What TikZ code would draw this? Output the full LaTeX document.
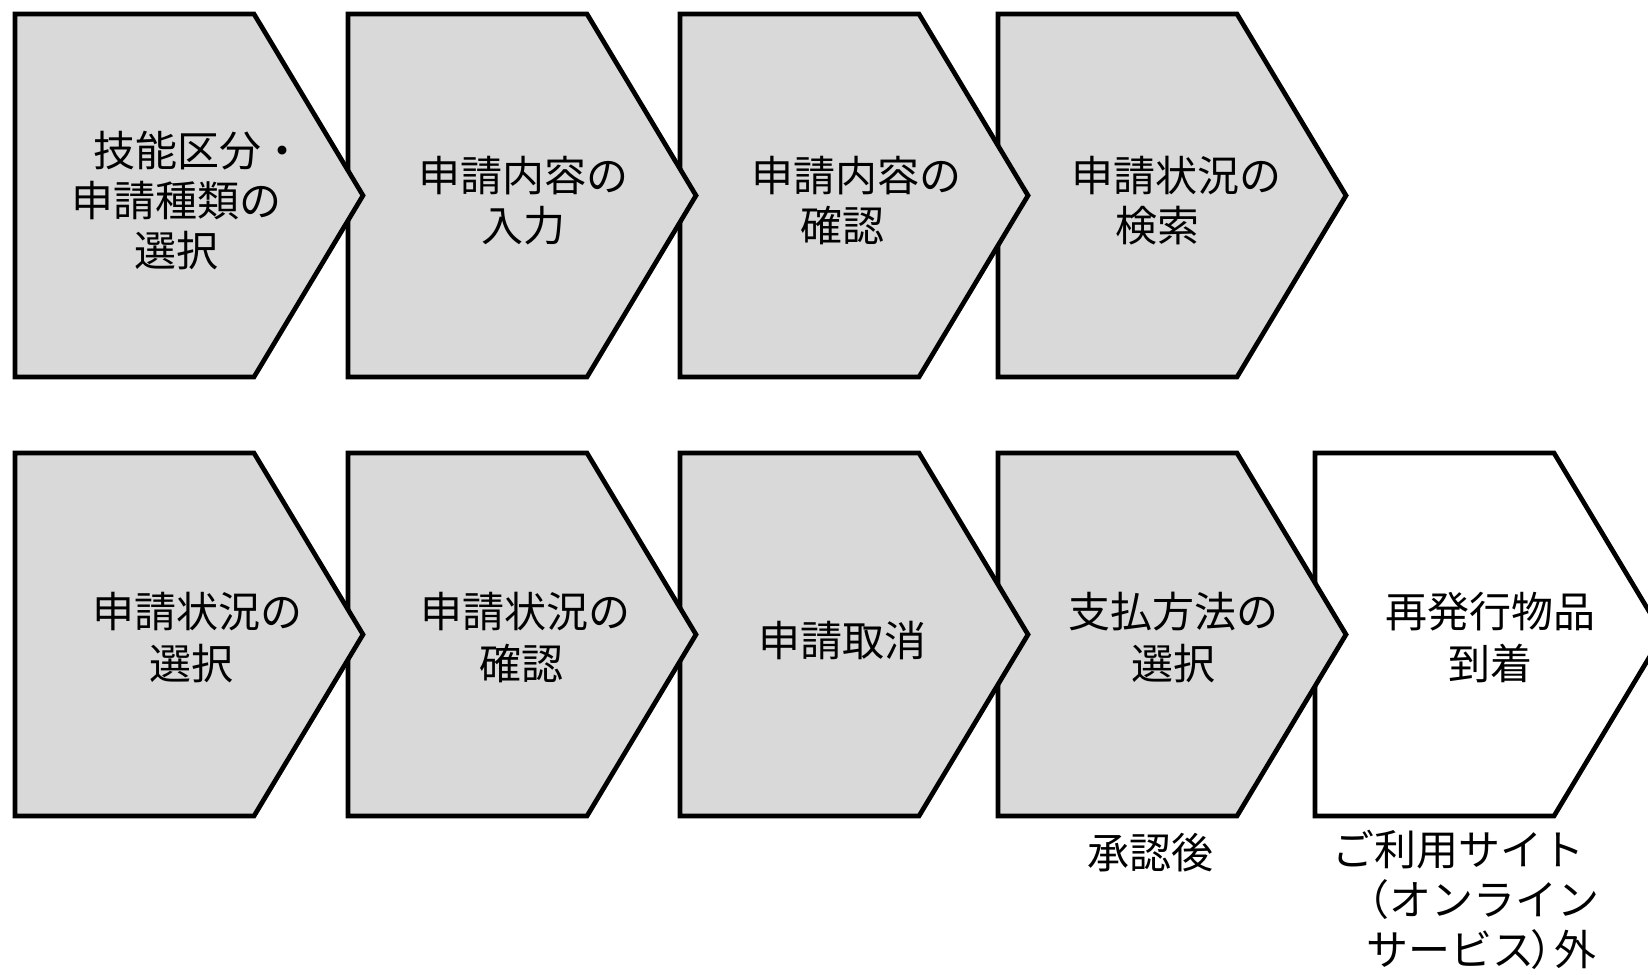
\documentclass[tikz,border=0pt]{standalone}
\usepackage{fontspec}
\setmainfont{Noto Sans CJK JP}
\definecolor{boxgray}{HTML}{D9D9D9}
\tikzset{
  chev/.style={draw=black, line width=4.7pt, line join=miter, fill=boxgray},
  chevwhite/.style={chev, fill=white},
  lbl/.style={inner sep=0pt, align=center, text=black, font=\fontsize{42}{50}\selectfont},
  lbltwo/.style={lbl, font=\fontsize{42}{52}\selectfont},
}
\newcommand\chevshape[3]{\path[#3] (#1,#2) -- ++(239,0) -- ++(109,181.5) -- ++(-109,181.5) -- ++(-239,0) -- cycle;}
\begin{document}
\begin{tikzpicture}[x=1pt,y=-1pt]
\useasboundingbox (0,0) rectangle (1648,974);
\clip (0,0) rectangle (1648,974);
% row 1 (drawn right to left so each tip overlaps the next box)
\chevshape{998}{14}{chev}
\chevshape{680}{14}{chev}
\chevshape{348}{14}{chev}
\chevshape{15}{14}{chev}
% row 2
\chevshape{1315}{453}{chevwhite}
\chevshape{998}{453}{chev}
\chevshape{680}{453}{chev}
\chevshape{348}{453}{chev}
\chevshape{15}{453}{chev}
% texts
\node[lbl] (t1) at (176,201) {\hspace*{44pt}技能区分・\\申請種類の\\選択};
\node[lbl] (t2) at (523,201) {申請内容の\\入力};
\node[lbl] (t3) at (856,201) {申請内容の\\確認\hspace*{28pt}};
\node[lbl] (t4) at (1176,201) {申請状況の\\検索\hspace*{38pt}};
\node[lbltwo] (b1) at (197,638) {申請状況の\\選択\hspace*{12pt}};
\node[lbltwo] (b2) at (525,638) {申請状況の\\確認\hspace*{8pt}};
\node[lbl] (b3) at (842,641) {申請取消};
\node[lbltwo] (b4) at (1173,638) {支払方法の\\選択};
\node[lbltwo] (b5) at (1490,638) {再発行物品\\到着};
\node[lbl] (n1) at (1150,853) {承認後};
\node[lbl, align=left, anchor=west] (n2) at (1332,898) {ご利用サイト\\\hspace*{15pt}（オンライン\\\hspace*{34pt}\raisebox{0pt}[\height][0pt]{サービス\hspace{-4pt}）\hspace{-18pt}外}};
\end{tikzpicture}
\end{document}
